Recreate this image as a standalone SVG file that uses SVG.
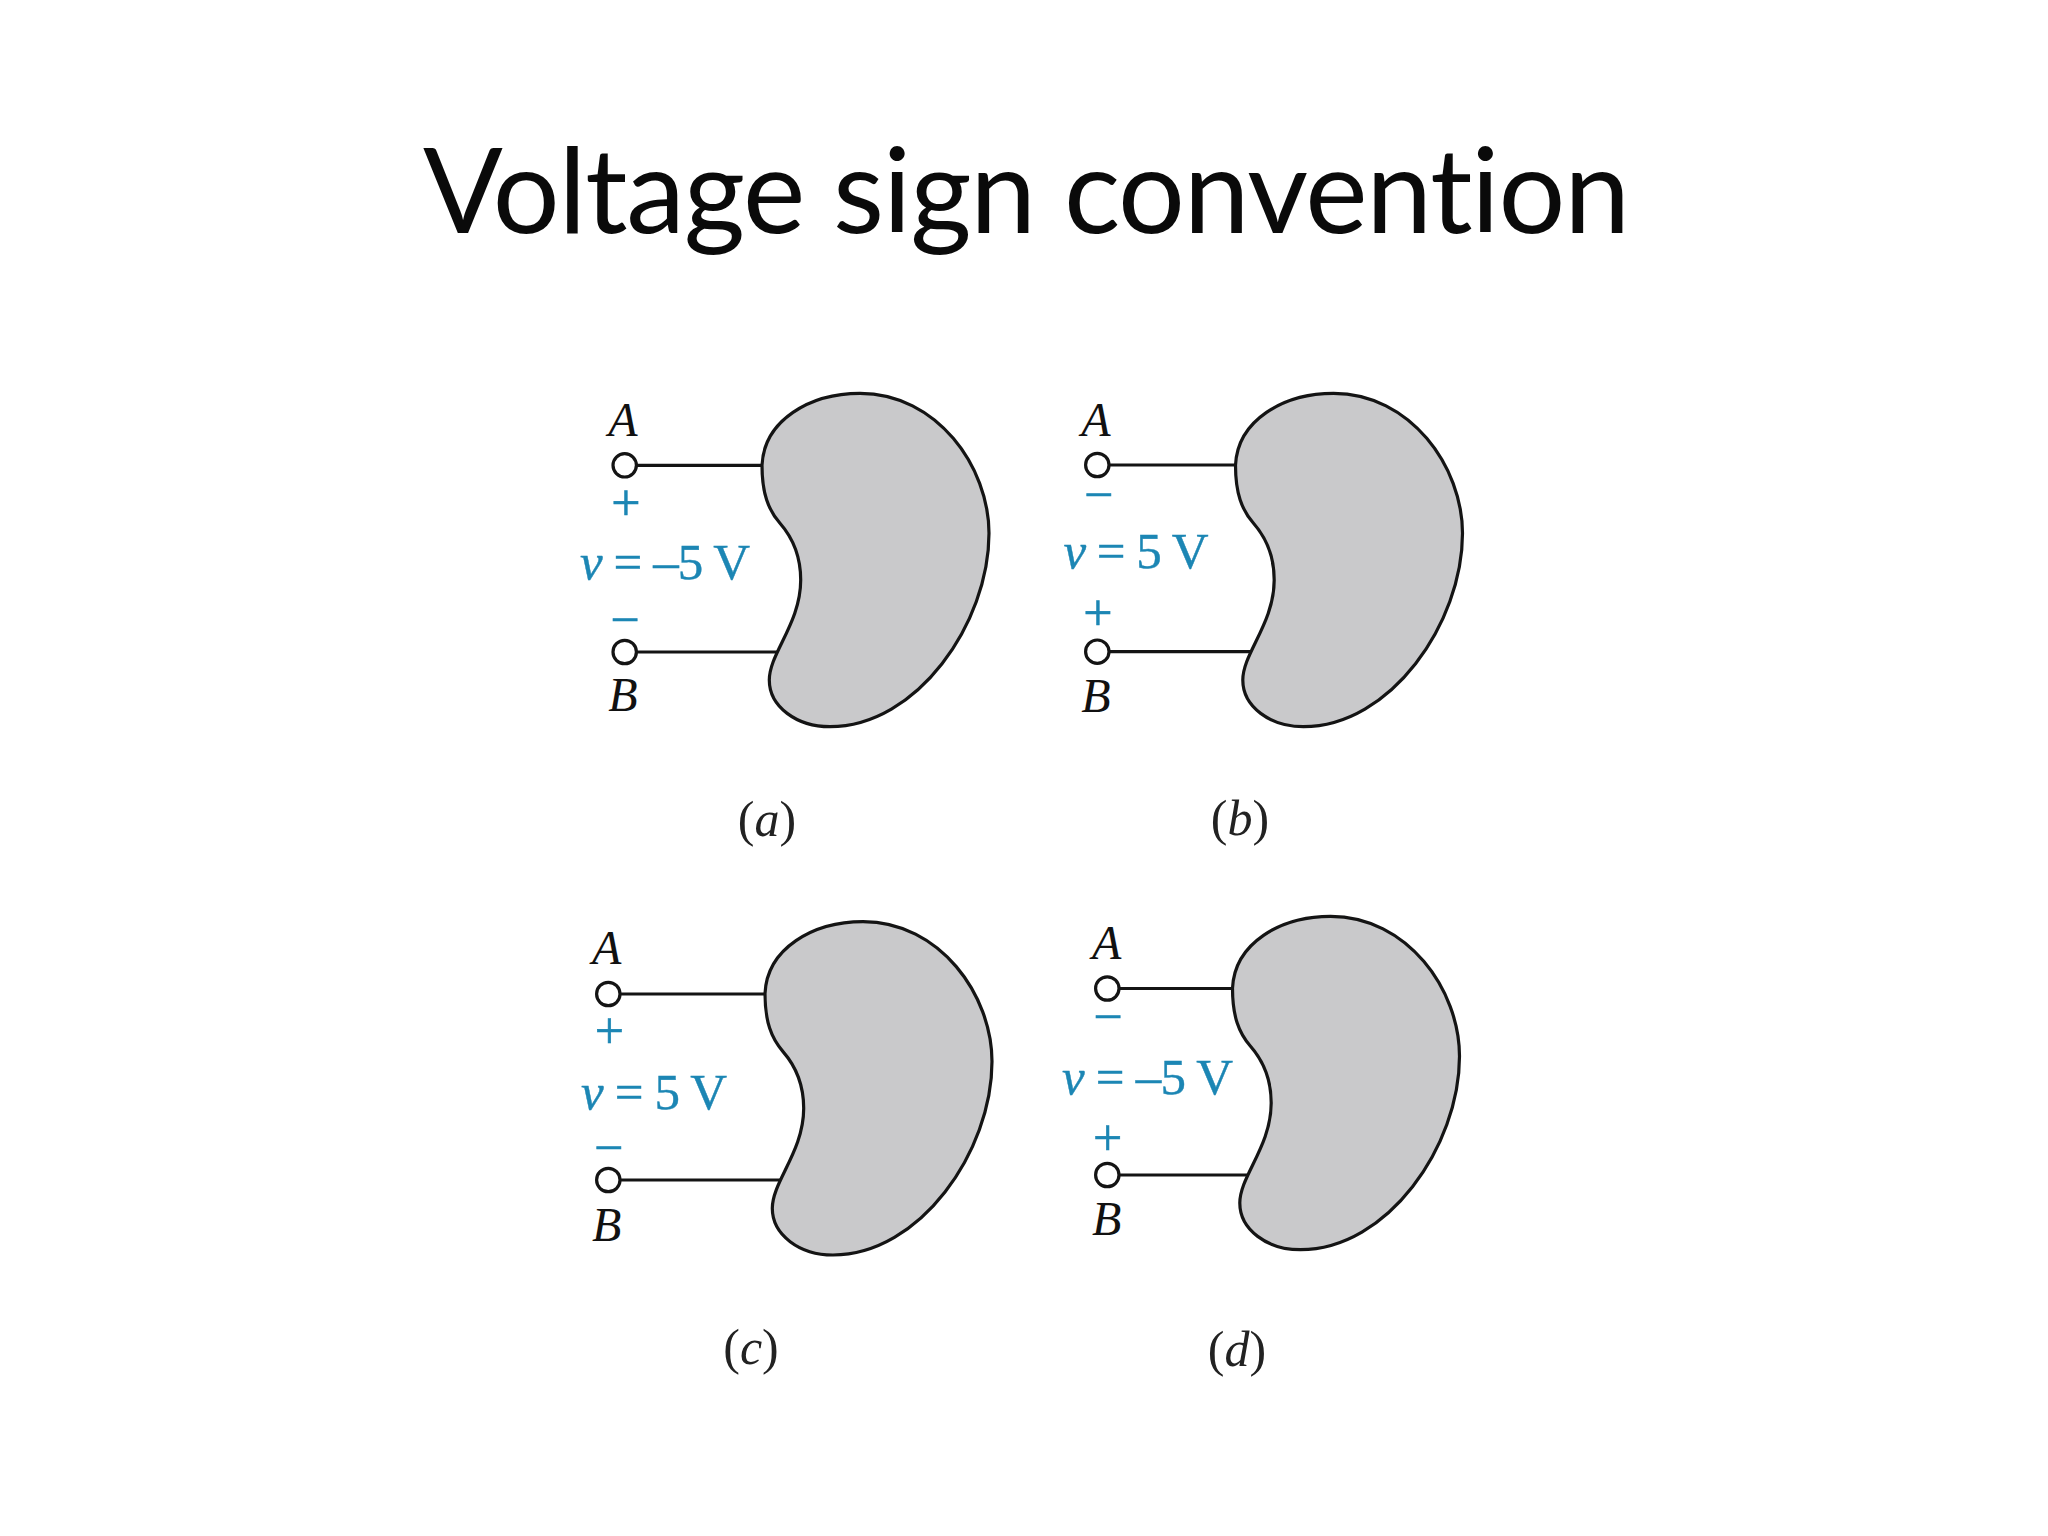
<svg xmlns="http://www.w3.org/2000/svg" width="2048" height="1536" viewBox="0 0 2048 1536">
<style>
.title{font-family:"Lato","Open Sans",sans-serif;font-size:118px;fill:#0a0a0a;font-variant-ligatures:none}
.blk{font-family:"Liberation Serif",serif;font-style:italic;font-size:48px;fill:#111;text-anchor:middle}
.cap{font-family:"Liberation Serif",serif;font-size:50px;fill:#222;text-anchor:middle}
.cap tspan,.val tspan{font-style:italic}
.val{font-family:"Liberation Serif",serif;font-size:51px;fill:#1c86b4;stroke:#1c86b4;stroke-width:.4}
.sgn{font-family:"Liberation Serif",serif;font-size:52px;fill:#1c86b4;stroke:#1c86b4;stroke-width:.6;text-anchor:middle}
.wire{stroke:#141414;stroke-width:3.2;fill:none}
.term{stroke:#141414;stroke-width:3.2;fill:#fff}
.blob{fill:#c9c9cb;stroke:#141414;stroke-width:3.2}
</style>
<defs>
<path id="bean" class="blob" d="M762,465.3C764,420 810,393.3 860,393.3C936.7,393.3 989,466.7 989,533.3C989,623.3 916.7,726.7 830,726.7C796.7,726.7 769.3,706.7 769.3,680C769.3,653.3 800.7,623.3 800.7,580C800.7,553.3 791.7,536.7 780,523.3C768.3,510 762,493.3 762,465.3Z"/>
</defs>
<rect width="2048" height="1536" fill="#fff"/>
<text id="title" class="title" x="423" y="233" textLength="1207" lengthAdjust="spacing">Voltage sign convention</text>
<g id="connectors">
<line class="wire" x1="625" y1="465.3" x2="763" y2="465.3"/>
<line class="wire" x1="625" y1="652" x2="779" y2="652"/>
<line class="wire" x1="1097" y1="465" x2="1236" y2="465"/>
<line class="wire" x1="1097" y1="651.7" x2="1252" y2="651.7"/>
<line class="wire" x1="608" y1="994" x2="766" y2="994"/>
<line class="wire" x1="608" y1="1180" x2="782" y2="1180"/>
<line class="wire" x1="1107" y1="988.5" x2="1234" y2="988.5"/>
<line class="wire" x1="1107" y1="1175" x2="1250" y2="1175"/>
</g>
<g id="panel-a">
<use href="#bean"/>
<circle class="term" cx="624.7" cy="465.3" r="11.7"/>
<circle class="term" cx="624.7" cy="652" r="11.7"/>
<text class="blk" x="623" y="436">A</text>
<text class="blk" x="623" y="711">B</text>
<text class="sgn" x="626" y="520">+</text>
<text class="sgn" x="625" y="637">−</text>
<text class="val" x="580" y="579" textLength="170" lengthAdjust="spacing"><tspan>v</tspan> = –5 V</text>
<text class="cap" x="767" y="836">(<tspan>a</tspan>)</text>
</g>
<g id="panel-b">
<use href="#bean" x="473.5"/>
<circle class="term" cx="1097.3" cy="465" r="11.7"/>
<circle class="term" cx="1097.3" cy="651.7" r="11.7"/>
<text class="blk" x="1096" y="436">A</text>
<text class="blk" x="1096" y="711.5">B</text>
<text class="sgn" x="1098.7" y="512">−</text>
<text class="sgn" x="1098" y="630">+</text>
<text class="val" x="1063.5" y="567.5" textLength="145" lengthAdjust="spacing"><tspan>v</tspan> = 5 V</text>
<text class="cap" x="1240" y="835">(<tspan>b</tspan>)</text>
</g>
<g id="panel-c">
<use href="#bean" x="3" y="528.3"/>
<circle class="term" cx="608.3" cy="994" r="11.7"/>
<circle class="term" cx="608.3" cy="1180" r="11.7"/>
<text class="blk" x="606.7" y="964">A</text>
<text class="blk" x="606.7" y="1240.5">B</text>
<text class="sgn" x="609.3" y="1047.5">+</text>
<text class="sgn" x="608.7" y="1165">−</text>
<text class="val" x="581" y="1109" textLength="146" lengthAdjust="spacing"><tspan>v</tspan> = 5 V</text>
<text class="cap" x="751" y="1364">(<tspan>c</tspan>)</text>
</g>
<g id="panel-d">
<use href="#bean" x="470.5" y="523"/>
<circle class="term" cx="1107.3" cy="988.5" r="11.7"/>
<circle class="term" cx="1107.3" cy="1175" r="11.7"/>
<text class="blk" x="1106.7" y="959">A</text>
<text class="blk" x="1106.7" y="1235">B</text>
<text class="sgn" x="1108" y="1034">−</text>
<text class="sgn" x="1107.7" y="1155">+</text>
<text class="val" x="1062" y="1094" textLength="171" lengthAdjust="spacing"><tspan>v</tspan> = –5 V</text>
<text class="cap" x="1237" y="1366">(<tspan>d</tspan>)</text>
</g>
</svg>
